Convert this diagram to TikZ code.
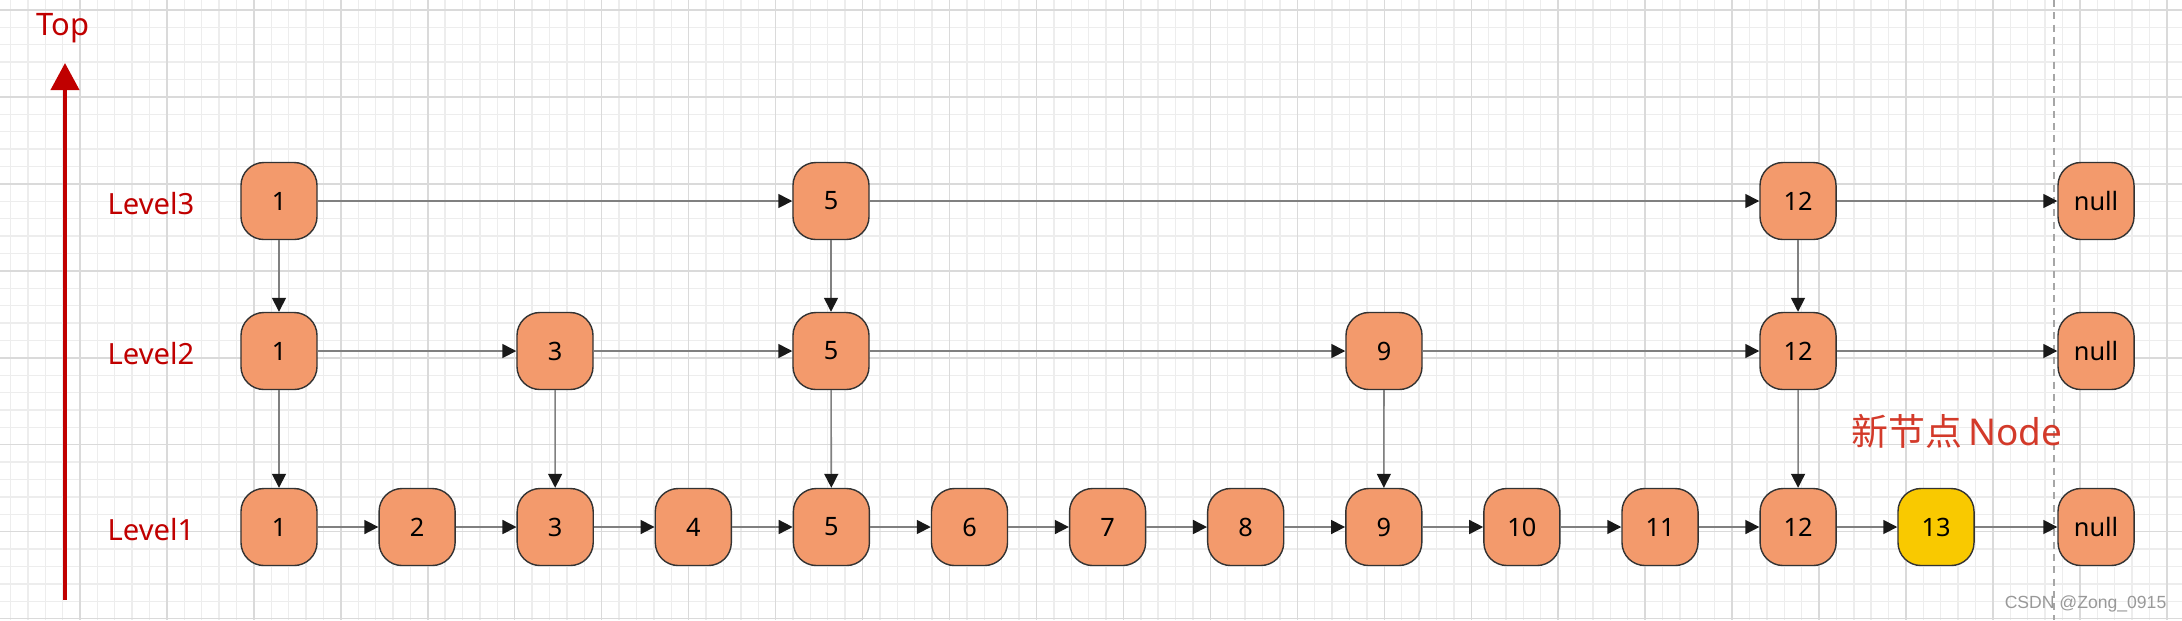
\documentclass[tikz,border=0pt]{standalone}
\usepackage{fontspec}
\setmainfont{Noto Sans}
\newfontfamily\cjk{Noto Sans CJK SC}
\newfontfamily\marksans{Liberation Sans}
\usetikzlibrary{arrows.meta}

\definecolor{nodefill}{HTML}{F39A6C}
\definecolor{newfill}{HTML}{F9C900}
\definecolor{levelred}{HTML}{C00000}
\definecolor{notered}{HTML}{D33A2A}
\definecolor{gridminor}{HTML}{EDEDED}
\definecolor{gridmajor}{HTML}{DADADA}

\tikzset{
  elem/.style={draw=black!80, line width=0.4pt, fill=nodefill, rounded corners=0.23cm,
    minimum width=0.76cm, minimum height=0.77cm, inner sep=0pt, font=\fontsize{7.2}{8}\selectfont},
  link/.style={draw=black!50, line width=0.45pt, -{Triangle[length=1.4mm,width=1.4mm,color=black!90]}},
  lvl/.style={text=levelred, font=\fontsize{8.3}{9}\selectfont}
}

\begin{document}
\begin{tikzpicture}[x=0.01cm,y=-0.01cm]
  \useasboundingbox (0,0) rectangle (2182,620);

  % background grid
  \begin{scope}
    \clip (0,0) rectangle (2182,620);
    \fill[white] (0,0) rectangle (2182,620);
    \foreach \i in {-5,...,125}
      \draw[gridminor, line width=0.4pt] ({80+\i*17.39},0) -- ++(0,620);
    \foreach \j in {-1,...,36}
      \draw[gridminor, line width=0.4pt] (0,{10+\j*17.39}) -- ++(2182,0);
    \foreach \i in {-1,...,25}
      \draw[gridmajor, line width=0.4pt] ({80+\i*86.95},0) -- ++(0,620);
    \foreach \j in {0,...,7}
      \draw[gridmajor, line width=0.4pt] (0,{10+\j*86.95}) -- ++(2182,0);
    \draw[black!35, line width=0.4pt, dash pattern=on 2pt off 1.5pt] (2054,0) -- (2054,620);
  \end{scope}

  % level axis
  \node[text=levelred, font=\fontsize{8.8}{10}\selectfont] (top) at (63,28) {Top};
  \coordinate (axisbot) at (65,600);
  \coordinate (axistip) at (65,63);
  \draw[levelred, line width=1.15pt, -{Triangle[length=0.27cm,width=0.28cm]}] (axisbot) -- (axistip);

  \node[lvl] (lv3) at (151,204) {Level3};
  \node[lvl] (lv2) at (151,354) {Level2};
  \node[lvl] (lv1) at (151,530) {Level1};

  % level 1
  \foreach \k in {1,...,12}
    \node[elem] (a\k) at ({279+(\k-1)*138.1},527) {\k};
  \node[elem, fill=newfill] (a13) at (1936,527) {13};
  \node[elem] (anull) at (2096,527) {null};

  % level 2
  \node[elem] (b1)  at (279,351)  {1};
  \node[elem] (b3)  at (555,351)  {3};
  \node[elem] (b5)  at (831,351)  {5};
  \node[elem] (b9)  at (1384,351) {9};
  \node[elem] (b12) at (1798,351) {12};
  \node[elem] (bnull) at (2096,351) {null};

  % level 3
  \node[elem] (c1)  at (279,201)  {1};
  \node[elem] (c5)  at (831,201)  {5};
  \node[elem] (c12) at (1798,201) {12};
  \node[elem] (cnull) at (2096,201) {null};

  \node[text=notered, font=\fontsize{10.5}{12}\selectfont] (newnote) at (1957,431) {{\cjk 新节点}\,Node};
  \node[anchor=east, inner sep=0pt, text=black!40, font=\marksans\fontsize{5}{6}\selectfont] (mark) at (2167,604) {CSDN @Zong\_0915};

  \foreach \from/\to in {a1/a2,a2/a3,a3/a4,a4/a5,a5/a6,a6/a7,a7/a8,a8/a9,a9/a10,a10/a11,a11/a12,a12/a13,a13/anull,
    b1/b3,b3/b5,b5/b9,b9/b12,b12/bnull,c1/c5,c5/c12,c12/cnull,
    c1/b1,c5/b5,c12/b12,b1/a1,b3/a3,b5/a5,b9/a9,b12/a12}
    \draw[link] (\from) -- (\to);
\end{tikzpicture}
\end{document}
